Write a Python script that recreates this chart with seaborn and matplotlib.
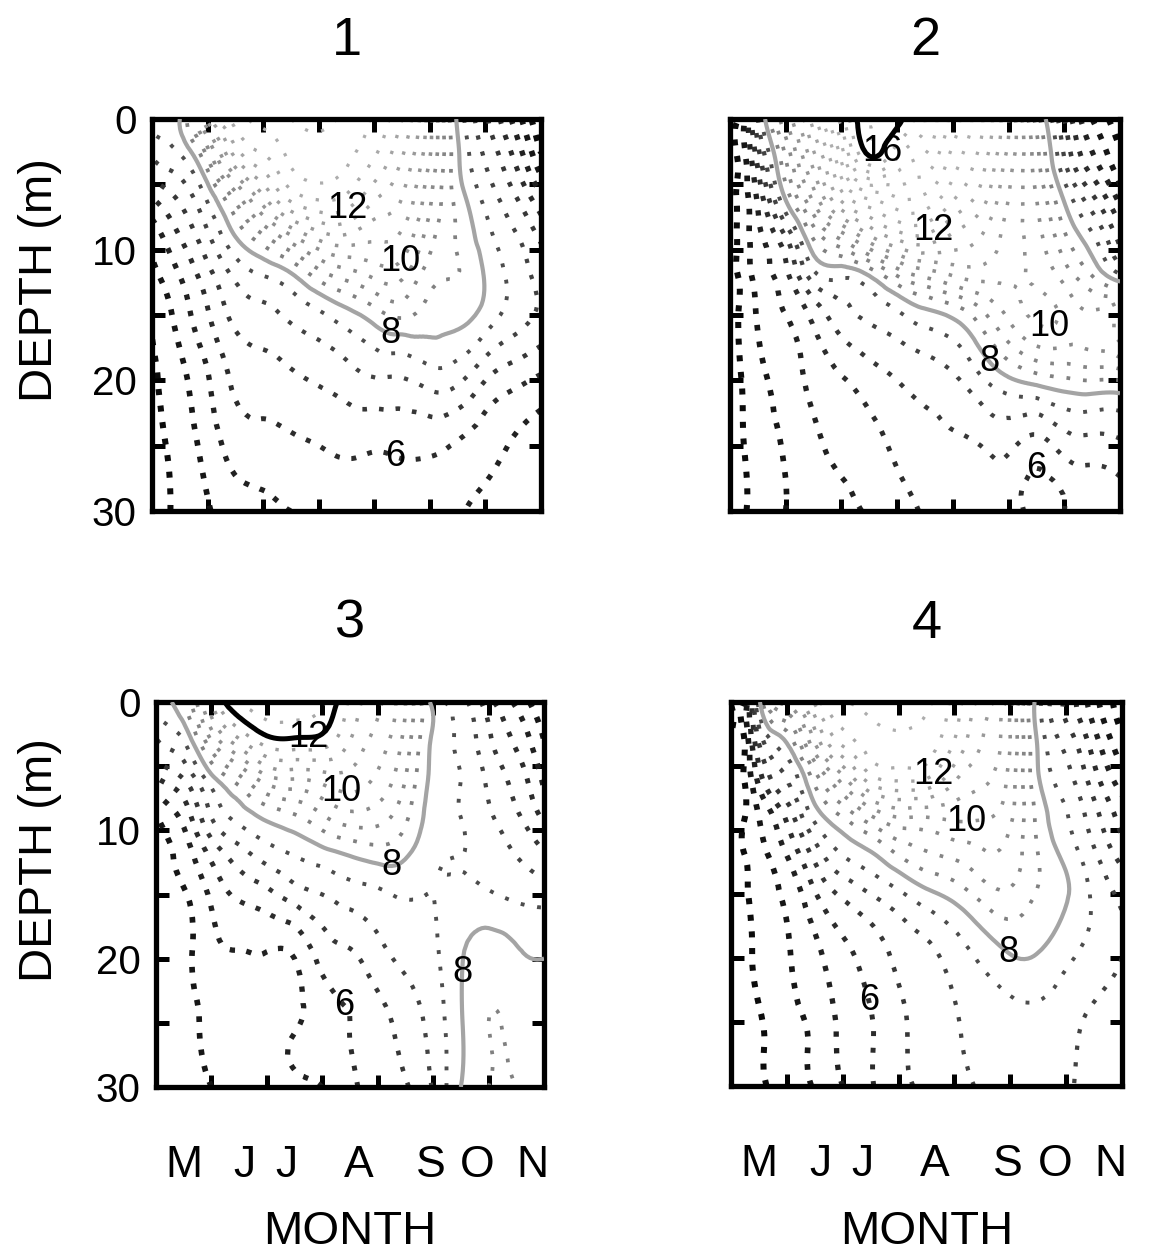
import numpy as np
import matplotlib
matplotlib.use("Agg")
import matplotlib.pyplot as plt
import matplotlib.tri as mtri
import seaborn as sns

# Grid nodes: months since 1 May and depth in metres
MONTH_NODES = [0, 0.25, 0.5, 1.0, 1.5, 2.0, 2.5, 3.0, 3.5, 4.0, 4.5, 5.0, 5.5, 6.0, 6.5, 7.0]
DEPTH_NODES = [0, 3, 6, 9, 12, 15, 20, 25, 30]

MONTH_LABELS = ["M", "J", "J", "A", "S", "O", "N"]
MONTH_LABEL_POS = [0.5, 1.6, 2.35, 3.65, 4.95, 5.8, 6.8]
DEPTH_TICKS = [0, 5, 10, 15, 20, 25, 30]
DEPTH_TICK_LABELS = ["0", "", "10", "", "20", "", "30"]
PANEL_TITLES = ["1", "2", "3", "4"]

# Water temperature (deg C): one profile per month node, surface to 30 m
site1_temp = [
    [7.8, 7.0, 6.0, 5.2, 4.85, 4.55, 4.45, 4.35, 4.3],
    [7.9, 7.2, 6.3, 5.6, 5.15, 4.85, 4.6, 4.5, 4.45],
    [8.0, 7.4, 6.6, 6.0, 5.5, 5.2, 4.85, 4.7, 4.6],
    [11.2, 9.0, 7.6, 6.9, 6.3, 5.95, 5.45, 5.2, 4.95],
    [12.7, 11.5, 9.2, 8.0, 7.1, 6.65, 6.1, 5.7, 5.3],
    [13.2, 12.4, 10.9, 8.9, 7.5, 6.85, 6.25, 5.8, 5.4],
    [13.5, 13.1, 12.2, 9.9, 7.9, 7.1, 6.4, 5.9, 5.5],
    [13.6, 13.3, 12.6, 10.7, 8.7, 7.4, 6.55, 6.0, 5.55],
    [13.4, 13.1, 12.4, 10.9, 9.2, 7.8, 6.75, 6.1, 5.7],
    [12.9, 12.5, 11.6, 10.6, 9.6, 8.25, 6.95, 6.05, 5.75],
    [12.0, 11.5, 11.0, 10.4, 9.6, 8.6, 6.95, 6.1, 5.75],
    [10.2, 10.0, 9.6, 9.2, 8.7, 8.3, 7.2, 6.1, 5.7],
    [7.9, 8.1, 8.3, 8.45, 8.5, 8.2, 7.1, 5.95, 5.55],
    [6.6, 6.95, 7.35, 7.7, 7.95, 7.8, 6.5, 5.7, 5.35],
    [5.4, 6.0, 6.6, 7.1, 7.35, 7.3, 6.15, 5.45, 5.2],
    [4.0, 4.6, 5.6, 6.4, 6.8, 6.9, 5.9, 5.2, 5.0],
]
site2_temp = [
    [4.3, 4.3, 4.3, 4.3, 4.3, 4.3, 4.3, 4.25, 4.2],
    [4.9, 4.85, 4.8, 4.75, 4.7, 4.65, 4.55, 4.5, 4.45],
    [7.0, 6.2, 5.6, 5.35, 5.2, 5.05, 4.85, 4.75, 4.7],
    [10.0, 9.0, 8.1, 6.5, 5.85, 5.5, 5.2, 5.05, 5.0],
    [12.3, 11.3, 10.2, 8.6, 7.3, 6.15, 5.65, 5.4, 5.25],
    [14.8, 13.6, 12.2, 9.7, 7.6, 6.8, 5.95, 5.6, 5.4],
    [16.4, 15.9, 13.1, 10.9, 8.0, 7.1, 6.25, 5.8, 5.55],
    [16.2, 15.0, 13.5, 11.7, 9.0, 7.4, 6.5, 6.1, 5.8],
    [15.0, 14.4, 13.4, 11.9, 9.6, 7.8, 6.7, 6.3, 6.05],
    [13.8, 13.3, 12.6, 11.4, 10.0, 8.1, 6.9, 6.4, 6.2],
    [12.6, 12.3, 11.8, 11.0, 10.2, 8.8, 7.4, 6.5, 6.25],
    [11.0, 10.8, 10.5, 10.3, 10.1, 9.6, 7.9, 6.6, 6.3],
    [8.8, 9.2, 9.5, 9.7, 9.9, 10.1, 8.2, 6.3, 5.8],
    [6.5, 7.0, 7.9, 8.6, 9.3, 9.9, 8.4, 6.7, 6.0],
    [5.0, 5.6, 6.6, 7.6, 8.5, 9.6, 8.5, 6.8, 6.2],
    [4.2, 4.6, 5.3, 6.3, 7.6, 10.1, 8.5, 6.9, 6.3],
]
site3_temp = [
    [7.8, 6.95, 5.95, 4.95, 4.7, 4.65, 4.6, 4.55, 4.5],
    [7.95, 7.2, 6.2, 5.3, 4.95, 4.8, 4.72, 4.68, 4.62],
    [8.5, 7.5, 6.5, 5.65, 5.2, 4.95, 4.85, 4.8, 4.75],
    [11.0, 9.5, 7.8, 7.0, 6.1, 5.6, 5.35, 5.15, 5.0],
    [12.5, 10.9, 8.8, 7.65, 6.75, 6.1, 5.45, 5.35, 5.3],
    [12.8, 11.8, 9.8, 8.1, 7.2, 6.35, 5.45, 5.4, 5.35],
    [12.8, 11.9, 10.0, 8.4, 7.5, 6.75, 5.5, 5.45, 5.45],
    [12.6, 11.8, 10.2, 8.9, 7.75, 7.0, 6.15, 5.75, 5.5],
    [11.4, 11.0, 10.3, 9.3, 8.0, 7.25, 6.4, 6.0, 5.9],
    [10.6, 10.3, 9.9, 9.2, 8.2, 7.4, 6.8, 6.3, 6.2],
    [9.5, 9.3, 9.0, 8.6, 8.05, 7.55, 7.1, 6.7, 6.45],
    [7.85, 7.9, 7.85, 7.75, 7.6, 7.5, 7.4, 7.2, 7.05],
    [7.2, 7.4, 7.5, 7.5, 7.5, 7.6, 7.95, 7.95, 8.0],
    [6.2, 6.6, 6.9, 7.1, 7.3, 7.55, 8.3, 8.5, 8.5],
    [5.4, 5.9, 6.3, 6.6, 7.0, 7.4, 8.1, 8.4, 8.5],
    [4.5, 5.0, 5.4, 5.9, 6.6, 7.3, 8.0, 8.3, 8.4],
]
site4_temp = [
    [4.4, 4.4, 4.4, 4.4, 4.35, 4.35, 4.3, 4.3, 4.3],
    [4.6, 4.55, 4.55, 4.5, 4.5, 4.45, 4.4, 4.35, 4.3],
    [7.8, 6.6, 5.7, 5.0, 4.8, 4.7, 4.6, 4.45, 4.4],
    [10.2, 8.1, 7.0, 6.1, 5.5, 5.1, 4.95, 4.85, 4.8],
    [12.1, 10.6, 8.7, 7.65, 6.65, 5.95, 5.35, 5.1, 5.05],
    [13.0, 12.2, 10.3, 8.5, 7.5, 6.6, 5.85, 5.65, 5.5],
    [13.2, 12.8, 11.8, 9.4, 7.9, 7.0, 6.2, 5.97, 5.95],
    [13.3, 12.9, 12.1, 10.0, 8.5, 7.4, 6.6, 6.4, 6.35],
    [13.1, 12.8, 12.0, 10.0, 8.9, 7.85, 6.85, 6.65, 6.6],
    [12.3, 12.0, 11.1, 10.1, 9.1, 8.2, 7.2, 6.95, 6.85],
    [11.3, 11.0, 10.6, 10.05, 9.4, 8.7, 7.6, 7.15, 7.05],
    [10.2, 10.0, 9.8, 9.6, 9.3, 8.9, 7.95, 7.3, 7.2],
    [7.7, 7.9, 8.05, 8.35, 8.5, 8.45, 7.95, 7.35, 7.2],
    [6.4, 6.8, 7.2, 7.55, 7.85, 8.05, 7.6, 7.15, 7.05],
    [5.2, 5.7, 6.2, 6.7, 7.1, 7.4, 7.3, 6.9, 6.85],
    [4.2, 4.6, 5.2, 5.8, 6.3, 6.9, 7.0, 6.7, 6.6],
]

# Isotherm labels: (temperature, month, depth)
site1_labels = [(12, 3.57, 7.2), (10, 4.5, 11.0), (8, 4.3, 16.4), (6, 4.33, 26.3)]
site2_labels = [(16, 3.04, 3.3), (12, 3.65, 8.5), (10, 5.74, 16.0), (8, 4.63, 18.6), (6, 5.54, 26.0)]
site3_labels = [(12, 2.75, 3.6), (10, 3.32, 7.2), (8, 4.29, 13.7), (8, 5.46, 21.1), (6, 3.42, 23.5)]
site4_labels = [(12, 3.65, 5.75), (10, 4.22, 9.5), (8, 4.93, 19.8), (6, 2.58, 23.2)]

# Isotherms drawn as heavy solid lines
site_bold = [[], [16], [12], []]

sites = [site1_temp, site2_temp, site3_temp, site4_temp]
labels = [site1_labels, site2_labels, site3_labels, site4_labels]

LEVELS = np.arange(4.0, 17.01, 0.5)

sns.set_style("white")
plt.rcParams["font.family"] = ["Liberation Sans", "DejaVu Sans"]
plt.rcParams["text.color"] = "black"
plt.rcParams["xtick.color"] = "black"
plt.rcParams["ytick.color"] = "black"
plt.rcParams["axes.labelcolor"] = "black"

W, H = 1152, 1259
fig = plt.figure(figsize=(W / 100, H / 100), dpi=100)
fig.patch.set_facecolor("white")

# axes boxes in pixels: left, top, right, bottom
boxes = [(152, 119, 541, 511), (730, 119, 1120, 511),
         (156, 702, 544, 1087), (731, 702, 1122, 1086)]


def iso_style(v):
    """Dotted isotherm: cold ones big and black, warm ones small and grey."""
    if v < 8:
        f = np.clip((v - 4.0) / 3.5, 0, 1)
        g = 0.0 + 0.30 * f
        lw = 4.6 - 1.8 * f
    else:
        f = np.clip((v - 8.5) / 4.5, 0, 1)
        g = 0.50 + 0.18 * f
        lw = 2.7 - 0.4 * f
    period = 12.0
    return (g, g, g), lw, (0, (1, (period - lw) / lw))


mx, dz = np.meshgrid(MONTH_NODES, DEPTH_NODES)

for i, (temp, lab, bold, box) in enumerate(zip(sites, labels, site_bold, boxes)):
    l, t, r, b = box
    ax = fig.add_axes([l / W, 1 - b / H, (r - l) / W, (b - t) / H])
    z = np.array(temp).T
    tri = mtri.Triangulation(mx.ravel(), dz.ravel())
    refiner = mtri.UniformTriRefiner(tri)
    tri_f, z_f = refiner.refine_field(z.ravel(), subdiv=3)

    sets = {}
    for v in LEVELS:
        if v < z.min() or v > z_f.max():
            continue
        if v in bold:
            cs = ax.tricontour(tri_f, z_f, levels=[v], colors=["black"],
                               linewidths=[3.6], linestyles=["solid"], zorder=4)
        elif v == 8:
            cs = ax.tricontour(tri_f, z_f, levels=[v], colors=["#a4a4a4"],
                               linewidths=[3.0], linestyles=["solid"], zorder=3)
        else:
            c, lw, ls = iso_style(v)
            cs = ax.tricontour(tri_f, z_f, levels=[v], colors=[c],
                               linewidths=[lw], linestyles=[ls], zorder=2)
        sets[float(v)] = cs

    grouped = {}
    for v, x, y in lab:
        grouped.setdefault(float(v), []).append((x, y))
    for v, pts in grouped.items():
        if v in sets:
            texts = ax.clabel(sets[v], levels=[v], manual=pts, inline=False,
                              fmt=lambda s: f"{s:g}", fontsize=26, colors="black")
            for tx in texts:
                tx.set_rotation(0)
                tx.set_zorder(6)

    ax.set_xlim(0, 7)
    ax.set_ylim(30, 0)
    ax.set_xticks([1, 2, 3, 4, 5, 6])
    ax.set_xticklabels([])
    ax.set_yticks(DEPTH_TICKS)
    ax.set_yticklabels(DEPTH_TICK_LABELS if i in (0, 2) else [""] * len(DEPTH_TICKS))
    ax.tick_params(which="major", direction="in", length=9, width=3.6,
                   top=True, bottom=True, left=True, right=True,
                   labelsize=29, pad=11, color="black")
    for sp in ax.spines.values():
        sp.set_linewidth(3.8)
        sp.set_color("black")
    if i >= 2:
        ax.set_xticks(MONTH_LABEL_POS, minor=True)
        ax.set_xticklabels(MONTH_LABELS, minor=True)
        ax.tick_params(which="minor", length=0, labelsize=32, pad=42)

    cx = (l + r) / 2
    fig.text(cx / W, 1 - (t - 64) / H, PANEL_TITLES[i], ha="center",
             va="baseline", fontsize=39)
    if i in (0, 2):
        fig.text(40 / W, 1 - (t + 0.41 * (b - t)) / H, "DEPTH (m)", rotation=90,
                 ha="center", va="center", fontsize=34)
    if i >= 2:
        fig.text(cx / W, 1 - 1232 / H, "MONTH", ha="center", va="center", fontsize=34)

fig.savefig("out.png", dpi=100, facecolor="white")
